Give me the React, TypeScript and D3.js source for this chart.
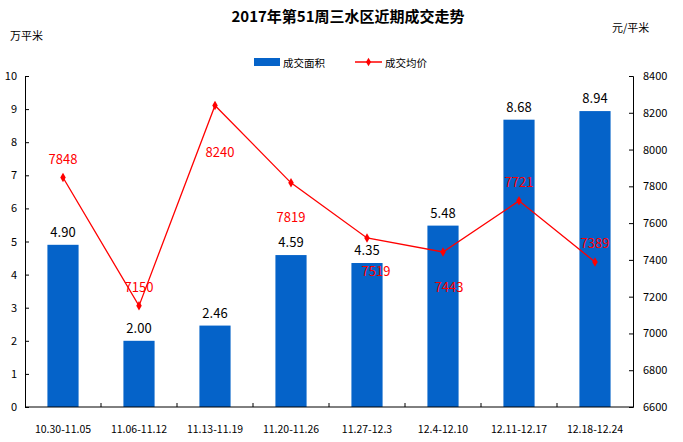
import { useEffect, useRef } from "react";
import * as d3 from "d3";

const weeks = [
  "10.30-11.05",
  "11.06-11.12",
  "11.13-11.19",
  "11.20-11.26",
  "11.27-12.3",
  "12.4-12.10",
  "12.11-12.17",
  "12.18-12.24",
];
const area = [4.9, 2.0, 2.46, 4.59, 4.35, 5.48, 8.68, 8.94];
const price = [7848, 7150, 8240, 7819, 7519, 7443, 7721, 7389];
// hand-placed price labels (px offset of label centre from its point), like the source chart
const priceLabelDy = [-19, -19, 47, 34, 33, 35, -19, -19];
const priceLabelDx = [0, 0, 5, 0, 9, 6, 0, 0];

const areaTicks = d3.range(0, 11, 1);
const priceTicks = d3.range(6600, 8401, 200);

const W = 683;
const H = 442;
const FONT = "'Noto Sans CJK SC', 'Noto Sans', sans-serif";

export default function App() {
  const svgRef = useRef<SVGSVGElement>(null);

  useEffect(() => {
    if (!svgRef.current) return;
    const svg = d3.select(svgRef.current);
    svg.selectAll("*").remove();

    const left = 25;
    const right = 633;
    const top = 76;
    const bottom = 407;

    const x = d3.scaleBand().domain(weeks).range([left, right]).paddingInner(0.59).paddingOuter(0.295);
    const xc = d3.scalePoint().domain(weeks).range([left, right]).padding(0.5);
    const yL = d3.scaleLinear().domain([0, 10]).range([bottom, top]);
    const yR = d3.scaleLinear().domain([6600, 8400]).range([bottom, top]);

    svg.attr("width", W).attr("height", H).style("font-family", FONT);

    // Title
    svg.append("text")
      .attr("x", 348).attr("y", 22)
      .attr("text-anchor", "middle")
      .attr("font-size", "15px").attr("font-weight", "bold")
      .attr("fill", "#000")
      .text("2017年第51周三水区近期成交走势");

    svg.append("text").attr("x", 10).attr("y", 40)
      .attr("font-size", "11px").attr("fill", "#000").text("万平米");
    svg.append("text").attr("x", 612).attr("y", 32)
      .attr("font-size", "11px").attr("fill", "#000").text("元/平米");

    // Legend
    const lg = svg.append("g");
    lg.append("rect").attr("x", 254).attr("y", 58).attr("width", 26).attr("height", 8).attr("fill", "#0563C9");
    lg.append("text").attr("x", 283).attr("y", 67).attr("font-size", "10.5px").attr("fill", "#000").text("成交面积");
    lg.append("line").attr("x1", 355).attr("x2", 382).attr("y1", 62).attr("y2", 62)
      .attr("stroke", "#FF0000").attr("stroke-width", 1.5);
    lg.append("path").attr("d", d3.symbol(d3.symbolDiamond, 22)()!)
      .attr("transform", "translate(368.5,62)").attr("fill", "#FF0000");
    lg.append("text").attr("x", 385).attr("y", 67).attr("font-size", "10.5px").attr("fill", "#000").text("成交均价");

    // Bars
    svg.append("g").selectAll("rect").data(area).join("rect")
      .attr("x", (_, i) => x(weeks[i])!)
      .attr("width", x.bandwidth())
      .attr("y", (d) => yL(d))
      .attr("height", (d) => yL(0) - yL(d))
      .attr("fill", "#0563C9");

    svg.append("g").selectAll("text").data(area).join("text")
      .attr("x", (_, i) => xc(weeks[i])!)
      .attr("y", (d) => yL(d) - 8)
      .attr("text-anchor", "middle")
      .attr("font-size", "13px").attr("fill", "#000")
      .text((d) => d.toFixed(2));

    // Axes
    const axisL = d3.axisLeft(yL).tickValues(areaTicks).tickSizeInner(-4).tickSizeOuter(-4).tickPadding(8);
    const gL = svg.append("g").attr("transform", `translate(${left},0)`).call(axisL);
    gL.selectAll("text").attr("font-size", "11px").attr("fill", "#000").style("font-family", FONT);

    const axisR = d3.axisRight(yR).tickValues(priceTicks).tickFormat(d3.format("d"))
      .tickSizeInner(-4).tickSizeOuter(-4).tickPadding(10);
    const gR = svg.append("g").attr("transform", `translate(${right},0)`).call(axisR);
    gR.selectAll("text").attr("font-size", "11px").attr("fill", "#000").style("font-family", FONT);

    const gB = svg.append("g").attr("transform", `translate(0,${bottom})`);
    gB.append("line").attr("x1", left).attr("x2", right).attr("stroke", "#000");
    const step = x.step();
    gB.selectAll("line.tk").data(d3.range(1, weeks.length)).join("line")
      .attr("class", "tk")
      .attr("x1", (i) => left + step * i).attr("x2", (i) => left + step * i)
      .attr("y1", 0).attr("y2", -4).attr("stroke", "#000");
    gB.selectAll("text").data(weeks).join("text")
      .attr("x", (d) => xc(d)!)
      .attr("y", 26)
      .attr("text-anchor", "middle")
      .attr("font-size", "10.5px").attr("fill", "#000")
      .text((d) => d);
    svg.selectAll(".domain").attr("stroke", "#000");
    svg.selectAll(".tick line").attr("stroke", "#000");

    // Price line
    const line = d3.line<number>()
      .x((_, i) => xc(weeks[i])!)
      .y((d) => yR(d));
    svg.append("path").datum(price)
      .attr("fill", "none").attr("stroke", "#FF0000").attr("stroke-width", 1.3)
      .attr("d", line);
    svg.append("g").selectAll("path").data(price).join("path")
      .attr("d", d3.symbol(d3.symbolDiamond, 26)()!)
      .attr("transform", (d, i) => `translate(${xc(weeks[i])},${yR(d)})`)
      .attr("fill", "#FF0000");
    svg.append("g").selectAll("text").data(price).join("text")
      .attr("x", (_, i) => xc(weeks[i])! + priceLabelDx[i])
      .attr("y", (d, i) => yR(d) + priceLabelDy[i] + 5)
      .attr("text-anchor", "middle")
      .attr("font-size", "13px").attr("fill", "#FF0000")
      .text((d) => d);
  }, []);

  return <svg ref={svgRef} style={{ display: "block", position: "absolute", left: 0, top: 0 }} />;
}
